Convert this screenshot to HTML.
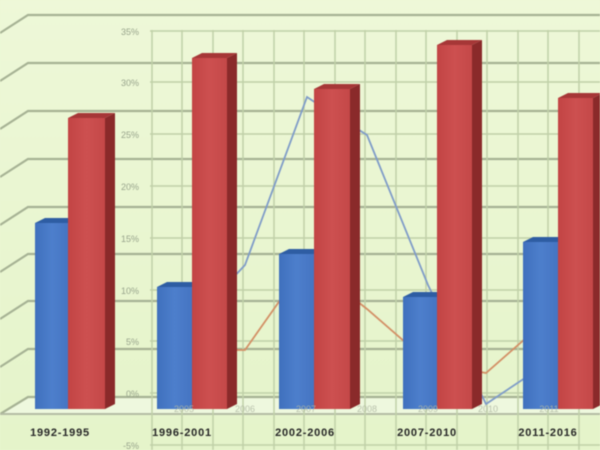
<!DOCTYPE html>
<html><head><meta charset="utf-8"><style>
html,body{margin:0;padding:0;background:#eaf6d2;}
svg{display:block;filter:blur(0.4px);}
</style></head><body>
<svg width="600" height="450" viewBox="0 0 600 450" xmlns="http://www.w3.org/2000/svg" font-family="Liberation Sans, sans-serif">
<defs>
<linearGradient id="bg" x1="0" y1="0" x2="0" y2="1">
<stop offset="0" stop-color="#eef8d8"/><stop offset="1" stop-color="#e5f4ca"/>
</linearGradient>
<linearGradient id="bf" x1="0" y1="0" x2="1" y2="0">
<stop offset="0" stop-color="#3f70bd"/><stop offset="0.5" stop-color="#4d7fcc"/><stop offset="1" stop-color="#4574c2"/>
</linearGradient>
<linearGradient id="rf" x1="0" y1="0" x2="1" y2="0">
<stop offset="0" stop-color="#c24444"/><stop offset="0.5" stop-color="#cd5050"/><stop offset="1" stop-color="#c44848"/>
</linearGradient>
</defs>
<rect width="600" height="450" fill="url(#bg)"/>
<polygon points="0,414 28,397 600,397 600,414" fill="#eef8de"/>
<g stroke="#a6b294" stroke-width="2.2" fill="none">
<polyline points="0,33 28,15 600,15"/>
<polyline points="0,81 28,63 600,63"/>
<polyline points="0,129 28,111 600,111"/>
<polyline points="0,177 28,159 600,159"/>
<polyline points="0,225 28,207 600,207"/>
<polyline points="0,272 28,254 600,254"/>
<polyline points="0,319 28,301 600,301"/>
<polyline points="0,367 28,349 600,349"/>
<polyline points="0,414 28,397 600,397"/>
</g>
<line x1="0" y1="414" x2="600" y2="414" stroke="#b3bca4" stroke-width="2"/>
<g stroke="#c0d0a8" stroke-width="1.5">
<line x1="150" y1="31" x2="600" y2="31"/>
<line x1="150" y1="82" x2="600" y2="82"/>
<line x1="150" y1="134" x2="600" y2="134"/>
<line x1="150" y1="186" x2="600" y2="186"/>
<line x1="150" y1="238" x2="600" y2="238"/>
<line x1="150" y1="290" x2="600" y2="290"/>
<line x1="150" y1="341" x2="600" y2="341"/>
<line x1="150" y1="393" x2="600" y2="393"/>
<line x1="150" y1="445" x2="600" y2="445"/>
<line x1="152" y1="30" x2="152" y2="450"/>
<line x1="182" y1="30" x2="182" y2="450"/>
<line x1="213" y1="30" x2="213" y2="450"/>
<line x1="243" y1="30" x2="243" y2="450"/>
<line x1="274" y1="30" x2="274" y2="450"/>
<line x1="304" y1="30" x2="304" y2="450"/>
<line x1="335" y1="30" x2="335" y2="450"/>
<line x1="365" y1="30" x2="365" y2="450"/>
<line x1="396" y1="30" x2="396" y2="450"/>
<line x1="426" y1="30" x2="426" y2="450"/>
<line x1="457" y1="30" x2="457" y2="450"/>
<line x1="487" y1="30" x2="487" y2="450"/>
<line x1="518" y1="30" x2="518" y2="450"/>
<line x1="548" y1="30" x2="548" y2="450"/>
<line x1="579" y1="30" x2="579" y2="450"/>
</g>
<polyline points="184,350 245,350 307,262 367,309 428,362 486,373 549,318" fill="none" stroke="#d39066" stroke-width="1.8"/>
<polyline points="184,330 245,265 307,97 313,101 367,135 428,285 486,404 549,362" fill="none" stroke="#7f9cc8" stroke-width="1.8"/>
<g>
<polygon points="35,223 45,218 78,218 68,223" fill="#2e5da3"/>
<rect x="35" y="223" width="34" height="186" fill="url(#bf)"/>
<polygon points="68,118 78,113 115,113 105,118" fill="#a63737"/>
<polygon points="105,118 115,113 115,404 105,409" fill="#8a2a2a"/>
<rect x="68" y="118" width="37" height="291" fill="url(#rf)"/>
<polygon points="157,287 167,282 202,282 192,287" fill="#2e5da3"/>
<rect x="157" y="287" width="35" height="122" fill="url(#bf)"/>
<polygon points="192,58 202,53 237,53 227,58" fill="#a63737"/>
<polygon points="227,58 237,53 237,404 227,409" fill="#8a2a2a"/>
<rect x="192" y="58" width="35" height="351" fill="url(#rf)"/>
<polygon points="279,254 289,249 324,249 314,254" fill="#2e5da3"/>
<rect x="279" y="254" width="35" height="155" fill="url(#bf)"/>
<polygon points="314,89 324,84 360,84 350,89" fill="#a63737"/>
<polygon points="350,89 360,84 360,404 350,409" fill="#8a2a2a"/>
<rect x="314" y="89" width="36" height="320" fill="url(#rf)"/>
<polygon points="403,297 413,292 447,292 437,297" fill="#2e5da3"/>
<rect x="403" y="297" width="34" height="112" fill="url(#bf)"/>
<polygon points="437,45 447,40 482,40 472,45" fill="#a63737"/>
<polygon points="472,45 482,40 482,404 472,409" fill="#8a2a2a"/>
<rect x="437" y="45" width="35" height="364" fill="url(#rf)"/>
<polygon points="523,242 533,237 568,237 558,242" fill="#2e5da3"/>
<rect x="523" y="242" width="35" height="167" fill="url(#bf)"/>
<polygon points="558,98 568,93 603,93 593,98" fill="#a63737"/>
<polygon points="593,98 603,93 603,404 593,409" fill="#8a2a2a"/>
<rect x="558" y="98" width="35" height="311" fill="url(#rf)"/>
</g>
<g font-size="9" fill="#98a48c" text-anchor="end">
<text x="139" y="35">35%</text>
<text x="139" y="86">30%</text>
<text x="139" y="138">25%</text>
<text x="139" y="190">20%</text>
<text x="139" y="242">15%</text>
<text x="139" y="294">10%</text>
<text x="139" y="345">5%</text>
<text x="139" y="397">0%</text>
<text x="139" y="449">-5%</text>
</g>
<g font-size="9" fill="#b0b8a4" text-anchor="middle" opacity="0.85">
<text x="184" y="412">2005</text>
<text x="245" y="412">2006</text>
<text x="306" y="412">2007</text>
<text x="367" y="412">2008</text>
<text x="428" y="412">2009</text>
<text x="488" y="412">2010</text>
<text x="549" y="412">2011</text>
</g>
<g font-size="11" font-weight="bold" fill="#262626" text-anchor="middle" letter-spacing="0.8">
<text x="60" y="436">1992-1995</text>
<text x="182" y="436">1996-2001</text>
<text x="305" y="436">2002-2006</text>
<text x="427" y="436">2007-2010</text>
<text x="548" y="436">2011-2016</text>
</g>
</svg>
</body></html>
